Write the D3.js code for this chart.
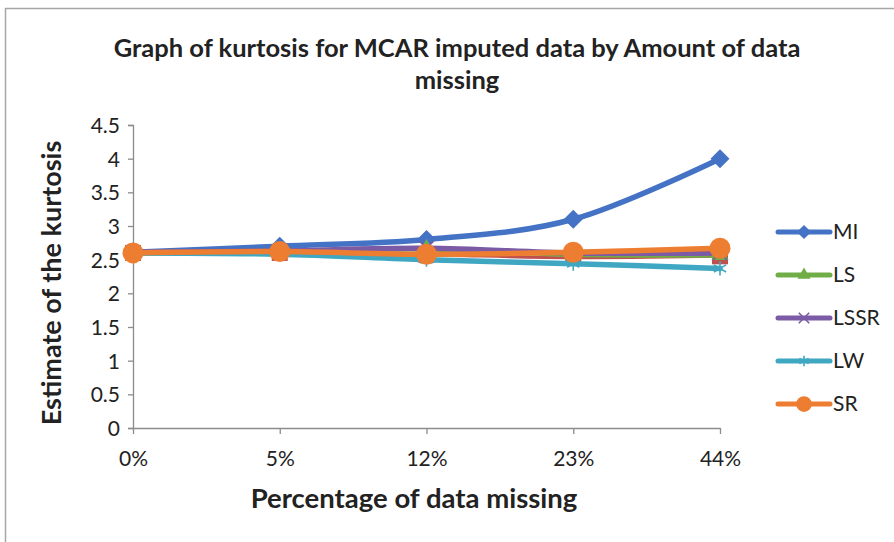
<!DOCTYPE html>
<html><head><meta charset="utf-8">
<script src="https://cdn.jsdelivr.net/npm/d3@7"></script>
<style>body{margin:0;background:#fff}svg{display:block}text{font-family:Lato,"Open Sans",sans-serif;fill:#222}</style>
</head><body><svg id="c" width="894" height="542"></svg>
<script>
const categories = ["0%","5%","12%","23%","44%"];
const seriesNames = ["MI","LS","LSSR","LW","SR"];
const MI   = [2.61, 2.70, 2.80, 3.10, 4.00];
const LS   = [2.60, 2.62, 2.66, 2.58, 2.57];
const LSSR = [2.61, 2.63, 2.67, 2.60, 2.60];
const LW   = [2.60, 2.58, 2.50, 2.44, 2.37];
const SR   = [2.60, 2.62, 2.58, 2.61, 2.67];
const extraRed = [2.60, 2.60, 2.57, 2.53, 2.55];
const yTicks = [0,0.5,1,1.5,2,2.5,3,3.5,4,4.5];
const titleLines = ["Graph of kurtosis for MCAR imputed data by Amount of data","missing"];
const xTitle = "Percentage of data missing";
const yTitle = "Estimate of the kurtosis";

const svg = d3.select("#c");
svg.append("rect").attr("x",5.5).attr("y",8.5).attr("width",1000).attr("height",1000)
  .attr("fill","none").attr("stroke","#a6a6a6").attr("stroke-width",1.5);

const x = d3.scalePoint().domain(categories).range([133,720]);
const y = d3.scaleLinear().domain([0,4.5]).range([428,125]);

// y axis
const ya = svg.append("g").attr("transform","translate(133,0)")
  .call(d3.axisLeft(y).tickValues(yTicks).tickSize(5).tickPadding(8).tickFormat(d=>String(d)));
ya.select(".domain").attr("stroke","#8c8c8c").attr("stroke-width",1.3);
ya.selectAll(".tick line").attr("stroke","#8c8c8c").attr("stroke-width",1.3);
ya.selectAll(".tick text").style("font-size","21px").attr("fill","#222").attr("dy","0.35em");

// x axis
const xa = svg.append("g").attr("transform","translate(0,428)")
  .call(d3.axisBottom(x).tickSize(6).tickPadding(17).tickSizeOuter(0));
xa.select(".domain").attr("stroke","#8c8c8c").attr("stroke-width",1.3);
xa.selectAll(".tick line").attr("stroke","#8c8c8c").attr("stroke-width",1.3);
xa.selectAll(".tick text").style("font-size","21px").attr("fill","#222");

// titles
svg.append("text").style("font-size","25.5px").style("font-weight","bold")
  .attr("text-anchor","middle")
  .selectAll("tspan").data(titleLines).join("tspan").attr("x",457).attr("y",(d,i)=>57+i*32).text(d=>d);
svg.append("text").attr("x",414).attr("y",508).attr("text-anchor","middle")
  .style("font-size","27.5px").style("font-weight","bold").text(xTitle);
svg.append("text").attr("transform","translate(52,283) rotate(-90)").attr("dy","0.35em")
  .attr("text-anchor","middle").style("font-size","27px").style("font-weight","bold").text(yTitle);

const colors = {MI:"#4472C4",LS:"#70AD47",LSSR:"#7B5AA6",LW:"#3FA7C2",SR:"#ED7D31",RED:"#C0504D"};
const data = {MI,LS,LSSR,LW,SR,RED:extraRed};
const order = ["MI","RED","LS","LSSR","LW","SR"];

const line = d3.line().x((d,i)=>x(categories[i])).y(d=>y(d)).curve(d3.curveCatmullRom.alpha(0));

function marker(g, name, cx, cy, small){
  const c = colors[name];
  const s = small?0.75:1;
  if(name==="MI"){
    g.append("path").attr("d",d3.symbol(d3.symbolSquare, 180*s*s)()).attr("transform",`translate(${cx},${cy}) rotate(45)`).attr("fill",c);
  } else if(name==="LS"){
    g.append("path").attr("d",d3.symbol(d3.symbolTriangle, 130*s*s)()).attr("transform",`translate(${cx},${cy})`).attr("fill",c);
  } else if(name==="LSSR"){
    g.append("path").attr("d",d3.symbol(d3.symbolX, 130*s*s)()).attr("transform",`translate(${cx},${cy})`).attr("fill","none").attr("stroke",c).attr("stroke-width",1.6);
  } else if(name==="LW"){
    g.append("path").attr("d",d3.symbol(d3.symbolAsterisk, 140*s*s)()).attr("transform",`translate(${cx},${cy})`).attr("fill","none").attr("stroke",c).attr("stroke-width",1.6);
  } else if(name==="SR"){
    g.append("circle").attr("cx",cx).attr("cy",cy).attr("r",10.5*s).attr("fill",c);
  } else {
    g.append("rect").attr("x",cx-8).attr("y",cy-8).attr("width",16).attr("height",16).attr("fill",c);
  }
}

order.forEach(name=>{
  const g = svg.append("g");
  g.append("path").datum(data[name]).attr("d",line).attr("fill","none")
    .attr("stroke",colors[name]).attr("stroke-width",name==="RED"?3:5.5).attr("stroke-linecap","round");
  data[name].forEach((v,i)=>marker(g,name,x(categories[i]),y(v),false));
});

// legend
const lg = svg.append("g");
seriesNames.forEach((name,i)=>{
  const yy = 232 + i*43;
  lg.append("line").attr("x1",778).attr("x2",830).attr("y1",yy).attr("y2",yy)
    .attr("stroke",colors[name]).attr("stroke-width",5).attr("stroke-linecap","round");
  marker(lg,name,804,yy,true);
  lg.append("text").attr("x",833).attr("y",yy).attr("dy","0.35em").style("font-size","21px").text(name);
});
</script></body></html>
